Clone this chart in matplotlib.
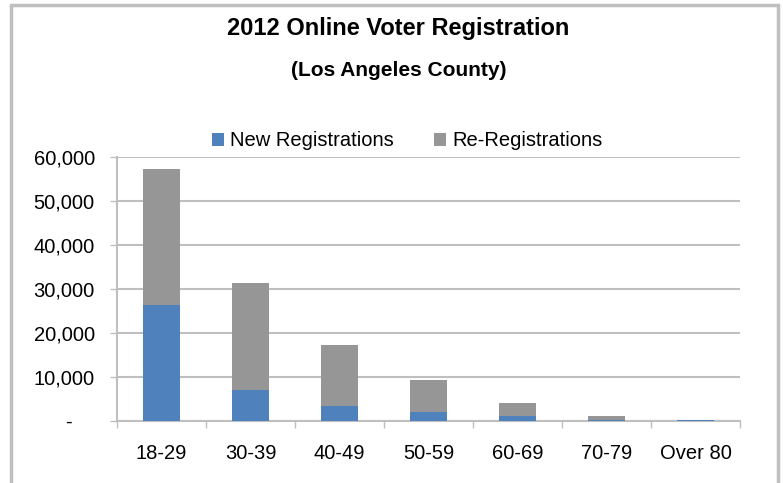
import numpy as np
import matplotlib
matplotlib.use("Agg")
import matplotlib.pyplot as plt
from matplotlib.patches import Rectangle
from matplotlib.ticker import FuncFormatter

plt.rcParams['font.family'] = ['Liberation Sans', 'DejaVu Sans']

# values
age_groups = ['18-29', '30-39', '40-49', '50-59', '60-69', '70-79', 'Over 80']
new_regs = [26300, 7000, 3400, 2000, 1000, 150, 150]
re_regs = [30900, 24300, 13800, 7250, 3000, 950, 50]
y_ticks = [0, 10000, 20000, 30000, 40000, 50000, 60000]

blue = '#4F81BD'
grey = '#969696'
line_grey = '#BFBFBF'

fig = plt.figure(figsize=(7.83, 4.83), dpi=100)
ax = fig.add_axes([117 / 783, 1 - 420.7 / 483, 623 / 783, 263.7 / 483])

x = np.arange(len(age_groups))
ax.bar(x, new_regs, width=0.42, color=blue, label='New Registrations', zorder=3)
ax.bar(x, re_regs, width=0.42, bottom=new_regs, color=grey,
       label='Re-Registrations', zorder=3)

ax.set_xlim(-0.5, len(age_groups) - 0.5)
ax.set_ylim(0, 60000)

# y axis
ax.set_yticks(y_ticks)
ax.yaxis.set_major_formatter(FuncFormatter(
    lambda v, p: '-    ' if v == 0 else f'{int(v):,}'))
ax.tick_params(axis='y', length=5, width=1, color=line_grey, pad=11,
               labelsize=14.5)
ax.grid(axis='y', color=line_grey, linewidth=1.5, zorder=0)

# x axis: labels at centres, ticks between categories
ax.set_xticks(x)
ax.set_xticklabels(age_groups)
ax.set_xticks(np.arange(-0.5, len(age_groups)), minor=True)
ax.tick_params(axis='x', which='major', length=0, pad=17, labelsize=14.5)
ax.tick_params(axis='x', which='minor', length=5, width=1, color=line_grey)

for side in ['top', 'right']:
    ax.spines[side].set_visible(False)
for side in ['left', 'bottom']:
    ax.spines[side].set_color(line_grey)
    ax.spines[side].set_linewidth(1.5)

fig.text(0.509, 0.94, '2012 Online Voter Registration', ha='center',
         va='center', fontsize=17, fontweight='bold')
fig.text(0.509, 0.854, '(Los Angeles County)', ha='center', va='center',
         fontsize=15, fontweight='bold')

fig.legend(loc='center', bbox_to_anchor=(0.52, 1 - 141 / 483), ncol=2,
           frameon=False, fontsize=14.5, handlelength=0.6, handleheight=0.6,
           handletextpad=0.3, columnspacing=2.0, borderaxespad=0)

# chart border (bottom edge is cut off in the reference)
fig.add_artist(Rectangle((11 / 783, -0.1), 766.5 / 783, 1.1 - 5 / 483,
                         transform=fig.transFigure, fill=False,
                         edgecolor=line_grey, linewidth=2.5))

fig.savefig('out.png', dpi=100)
